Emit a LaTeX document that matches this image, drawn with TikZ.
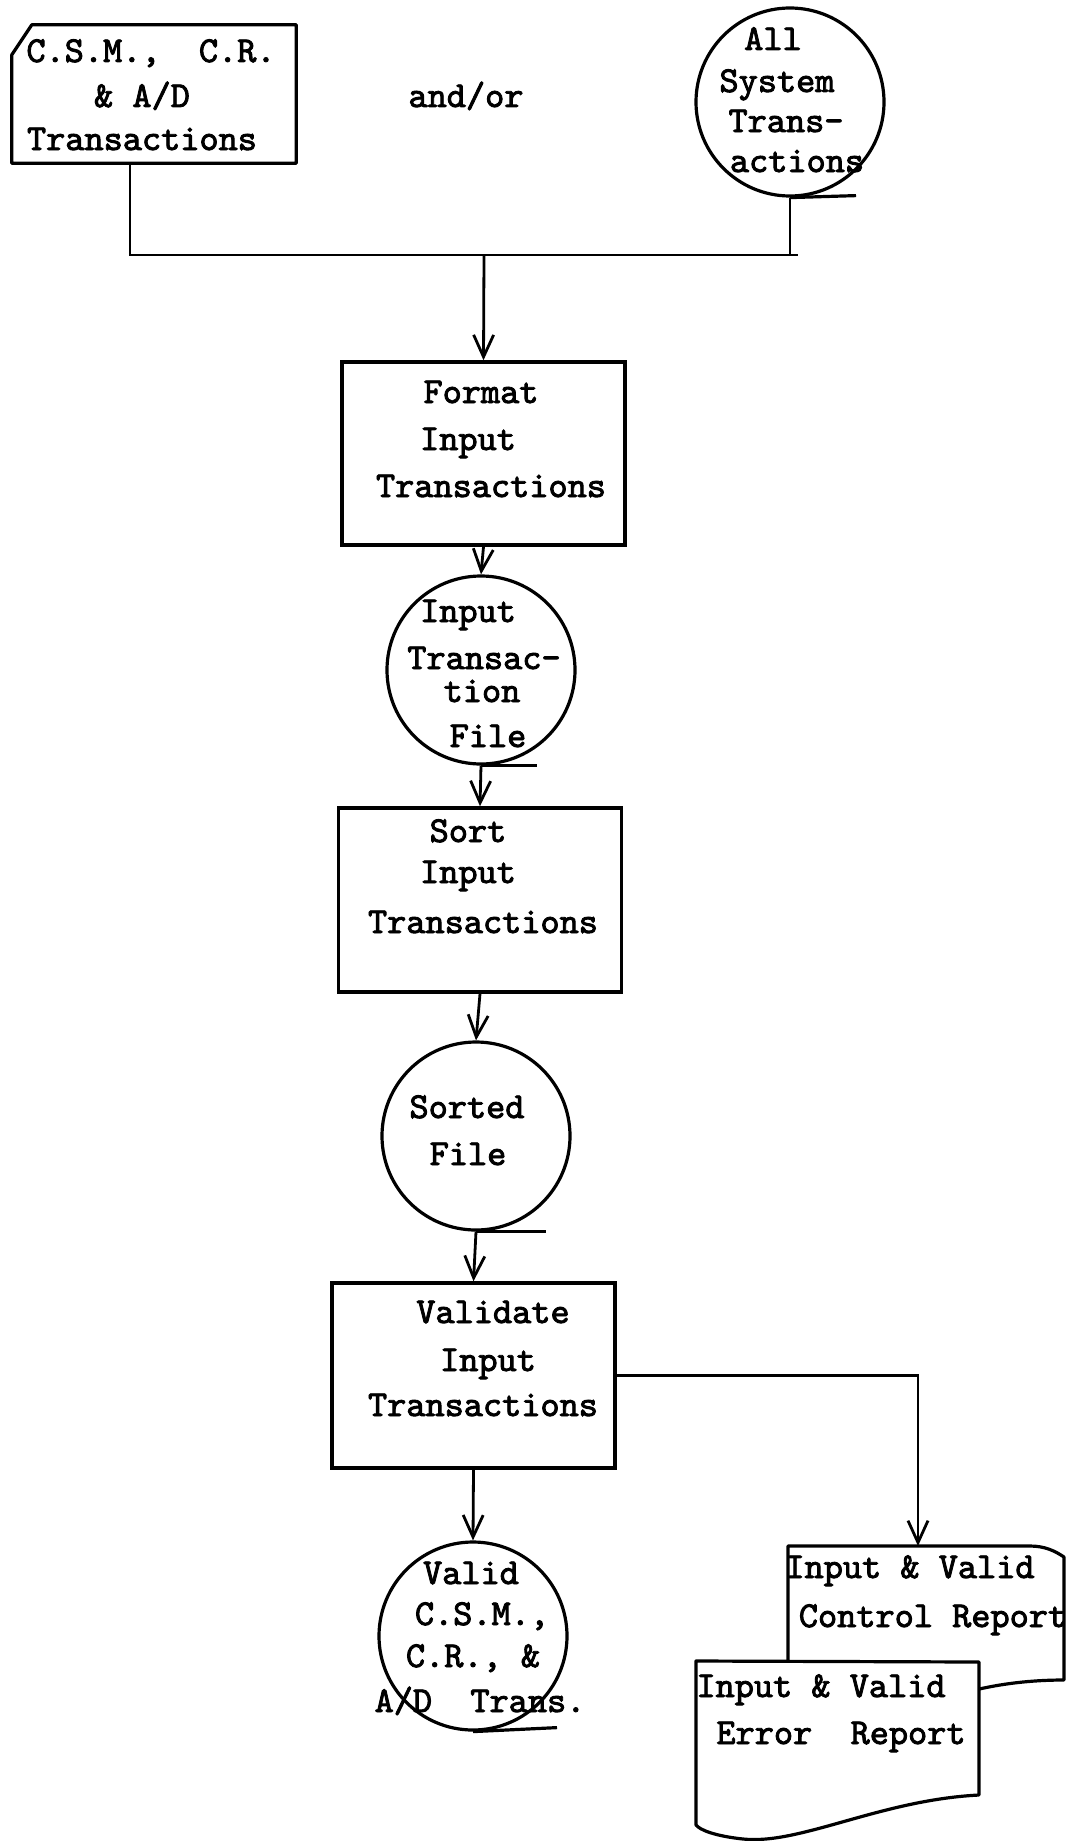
\documentclass[tikz,border=0pt]{standalone}
\usepackage{fontspec}
\newfontfamily\tw[FakeBold=2.4]{lmmono10-regular.otf}
\usetikzlibrary{arrows.meta,calc}
\begin{document}
\begin{tikzpicture}[x=1pt,y=-1pt,
  tx/.style={anchor=base,inner sep=0pt,font=\tw\fontsize{36.5}{40}\selectfont},
  procbox/.style={draw,line width=3.5pt,rectangle,inner sep=0pt,minimum width=283pt,minimum height=184pt},
  tapecirc/.style={draw,line width=3.2pt,circle,inner sep=0pt,minimum size=188pt},
  conn/.style={line width=2.8pt},
  arr/.style={line width=2.8pt,-{Straight Barb[length=22pt,width=20pt]}},
  tapeline/.style={line width=3.2pt},
  docline/.style={line width=3.2pt,line join=round}]
\newcommand{\tl}[4]{\node[tx] (#1) at (#2,#3) {#4};}
\useasboundingbox (0,0) rectangle (1076,1841);
\fill[white] (0,0) rectangle (1076,1841);

% --- input card
\node[inner sep=0pt,minimum width=284pt,minimum height=138pt] (card) at (154,94) {};
\draw[docline] ($(card.north west)+(0,30)$) -- ($(card.north west)+(20,0)$) -- (card.north east) -- (card.south east) -- (card.south west) -- cycle;
\tl{c1}{151}{62}{C.S.M.,\ \ C.R.}
\tl{c2}{142}{107}{\& A/D}
\tl{c3}{142}{150}{Transactions}

\tl{andor}{466}{107}{and/or}

% --- all system transactions tape
\node[tapecirc] (allsys) at (790,102) {};
\draw[tapeline] (allsys.south) -- ++(66,-2);
\tl{a1}{773}{50}{All}
\tl{a2}{777}{92}{System}
\tl{a3}{786}{132}{Trans-}
\tl{a4}{797}{172}{actions}

% --- junction
\coordinate (jl) at (130,255);
\coordinate (jr) at (798,255);
\coordinate (jm) at (484,255);
\draw[conn] (card.south -| jl) -- (jl) -- (jr);
\draw[conn] (allsys.south) -- (allsys.south |- jr);

% --- format
\node[procbox,minimum height=183pt] (fmt) at (483.5,453.5) {};
\draw[arr] (jm) -- (fmt.north);
\tl{f1}{481}{403}{Format}
\tl{f2}{468}{450}{Input}
\tl{f3}{491}{497}{Transactions}

% --- input transaction file
\node[tapecirc] (itf) at (481,670) {};
\draw[tapeline] (itf.south) -- ++(56,0);
\draw[arr] (fmt.south) -- (itf.north);
\tl{i1}{468}{622}{Input}
\tl{i2}{484}{669}{Transac-}
\tl{i3}{482}{702}{tion}
\tl{i4}{488}{747}{File}

% --- sort
\node[procbox] (sort) at (480,900) {};
\draw[arr] (itf.south) -- (sort.north);
\tl{s1}{468}{842}{Sort}
\tl{s2}{468}{883}{Input}
\tl{s3}{483}{933}{Transactions}

% --- sorted file
\node[tapecirc] (sorted) at (476,1136) {};
\draw[tapeline] (sorted.south) -- ++(70,0);
\draw[arr] (sort.south) -- (sorted.north);
\tl{o1}{467}{1118}{Sorted}
\tl{o2}{468}{1165}{File}

% --- validate
\node[procbox,minimum height=185pt] (val) at (473.5,1375.5) {};
\draw[arr] (sorted.south) -- (val.north);
\tl{v1}{493}{1323}{Validate}
\tl{v2}{488}{1371}{Input}
\tl{v3}{483}{1416}{Transactions}

% --- valid transactions tape
\node[tapecirc] (valid) at (473,1636) {};
\draw[tapeline] (valid.south) -- ++(84,-4);
\draw[arr] (val.south) -- (valid.north);
\tl{d1}{471}{1584}{Valid}
\tl{d2}{482}{1625}{C.S.M.,}
\tl{d3}{473}{1667}{C.R., \&}
\tl{d4}{480}{1712}{A/D\ \ Trans.}

% --- control report document
\node[inner sep=0pt,minimum width=276pt,minimum height=144pt] (ctl) at (926,1618) {};
\coordinate (ctlin) at (918,1546);
\draw[docline] (788,1661) -- (788,1546) -- (1030,1546) .. controls (1045,1546) and (1055,1551) .. (1064,1557) -- (1064,1680) .. controls (1030,1680) and (1000,1684) .. (975,1690);
\draw[arr] (val.east) -| (ctlin);
\tl{r1}{910}{1578}{Input \& Valid}
\tl{r2}{933}{1627}{Control Report}

% --- error report document
\node[inner sep=0pt,minimum width=283pt,minimum height=164pt] (err) at (837.5,1743) {};
\filldraw[docline,fill=white] (696,1661) -- (979,1662) -- (979,1795) .. controls (880,1800) and (800,1845) .. (743,1839) .. controls (715,1836) and (700,1830) .. (696,1825) -- cycle;
\tl{e1}{821}{1697}{Input \& Valid}
\tl{e2}{841}{1744}{Error\ \ Report}
\end{tikzpicture}
\end{document}
